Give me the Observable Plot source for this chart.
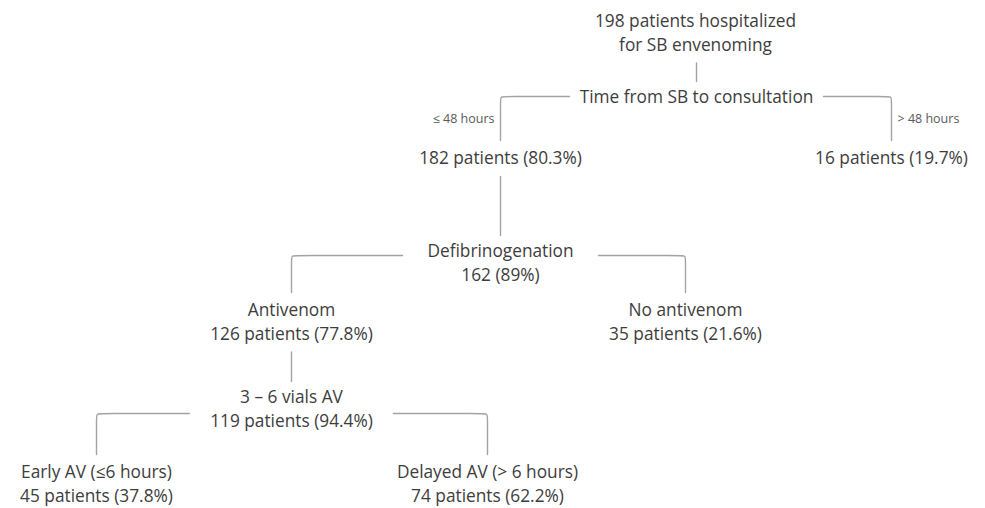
<!DOCTYPE html>
<html>
<head>
<meta charset="utf-8">
<script src="https://cdn.jsdelivr.net/npm/d3@7"></script>
<script src="https://cdn.jsdelivr.net/npm/@observablehq/plot@0.6"></script>
<style>
  html, body { margin: 0; padding: 0; background: #ffffff; }
  #chart svg { display: block; }
</style>
</head>
<body>
<div id="chart"></div>
<script>
// ---- Tree content ----
const nodeIds    = ["root", "time", "le48", "gt48", "defib", "av", "noav", "vials", "early", "delayed"];
const nodeLine1  = ["198 patients hospitalized", "Time from SB to consultation", "182 patients (80.3%)", "16 patients (19.7%)",
                    "Defibrinogenation", "Antivenom", "No antivenom", "3 – 6 vials AV", "Early AV (≤6 hours)", "Delayed AV (> 6 hours)"];
const nodeLine2  = ["for SB envenoming", "", "", "", "162 (89%)", "126 patients (77.8%)", "35 patients (21.6%)",
                    "119 patients (94.4%)", "45 patients (37.8%)", "74 patients (62.2%)"];
const nodeParent = [null, "root", "time", "time", "le48", "defib", "defib", "av", "vials", "vials"];
const edgeLabel  = ["", "", "≤ 48 hours", "> 48 hours", "", "", "", "", "", ""];

// ---- Diagram layout (diagram units) ----
const nodeX = [695, 696, 500, 891, 500, 291, 685, 291, 96, 487];
const nodeY = [21, 97, 158, 158, 251, 310, 310, 397, 472, 472];   // centre of first text line
const branchIds     = ["time", "defib", "vials"];
const branchY       = [96, 255, 413];
const branchHalfGap = [127, 98, 102];

// ---- Derived tables ----
const LINE_GAP = 23.5;
const nodes = nodeIds.map((id, i) => ({
  id, x: nodeX[i], y: nodeY[i], l1: nodeLine1[i], l2: nodeLine2[i],
  parent: nodeParent[i], edge: edgeLabel[i]
}));
const byId = new Map(nodes.map(n => [n.id, n]));
const lines = nodes.flatMap(n => [
  {x: n.x, y: n.y, text: n.l1},
  ...(n.l2 ? [{x: n.x, y: n.y + LINE_GAP, text: n.l2}] : [])
]);
const childCount = d3.rollup(nodes.filter(n => n.parent), v => v.length, n => n.parent);

const R = 5;
const pts = [];
const edgeTexts = [];
nodes.forEach(n => {
  if (!n.parent) return;
  const p = byId.get(n.parent);
  const pBottom = p.y + (p.l2 ? LINE_GAP : 0) + 18;
  if (childCount.get(p.id) === 1) {
    pts.push({e: n.id, x: n.x, y: pBottom}, {e: n.id, x: n.x, y: n.y - 16});
  } else {
    const bi = branchIds.indexOf(p.id);
    const by = branchY[bi];
    const dir = Math.sign(n.x - p.x);
    const x0 = p.x + dir * branchHalfGap[bi];
    const yEnd = n.y - 18;
    pts.push(
      {e: n.id, x: x0, y: by},
      {e: n.id, x: n.x - dir * R, y: by},
      {e: n.id, x: n.x, y: by},
      {e: n.id, x: n.x, y: by + R},
      {e: n.id, x: n.x, y: yEnd}
    );
    if (n.edge) edgeTexts.push({x: n.x + dir * 6, y: (by + yEnd) / 2, text: n.edge, anchor: dir < 0 ? "end" : "start"});
  }
});

const FONT = "'Open Sans', Lato, sans-serif";
const chart = Plot.plot({
  width: 985,
  height: 508,
  margin: 0,
  x: {domain: [0, 985], range: [0, 985], axis: null},
  y: {domain: [0, 508], range: [0, 508], axis: null},
  style: {background: "#ffffff", fontFamily: FONT},
  marks: [
    Plot.line(pts, {x: "x", y: "y", z: "e", curve: "basis", stroke: "#a3a3a3", strokeWidth: 1.4}),
    Plot.text(lines, {x: "x", y: "y", text: "text", fontSize: 17.3, fill: "#3d3d3d", fontFamily: FONT}),
    Plot.text(edgeTexts.filter(d => d.anchor === "end"), {x: "x", y: "y", text: "text", textAnchor: "end", fontSize: 12.5, fill: "#5a5a5a", fontFamily: FONT}),
    Plot.text(edgeTexts.filter(d => d.anchor === "start"), {x: "x", y: "y", text: "text", textAnchor: "start", fontSize: 12.5, fill: "#5a5a5a", fontFamily: FONT})
  ]
});
document.getElementById("chart").append(chart);
</script>
</body>
</html>
